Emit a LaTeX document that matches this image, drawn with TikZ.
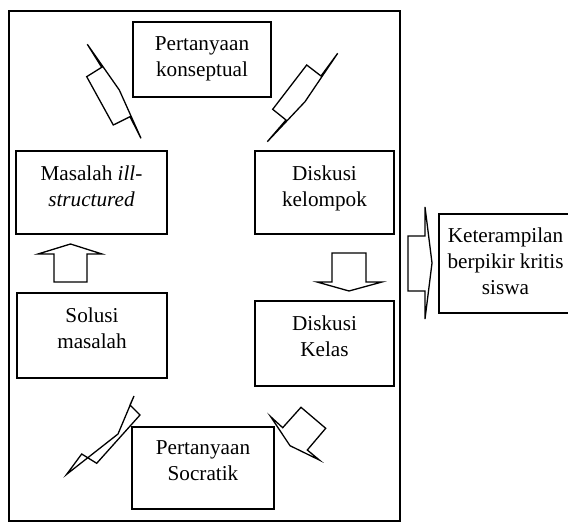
\documentclass[tikz,border=0pt]{standalone}
\usepackage{fontspec}
\setmainfont{Liberation Serif}
\usetikzlibrary{positioning}
\tikzset{
  kotak/.style={draw, line width=0.9pt, inner sep=0pt},
  teks/.style={align=center, inner sep=0pt, font=\fontsize{10.6}{13}\selectfont},
  panah/.style={draw, line width=0.65pt},
}
\begin{document}
\begin{tikzpicture}[x=0.5pt,y=-0.5pt]
                        \useasboundingbox (0,0) rectangle (568,528);

                        % Drawing outer frame
                        \draw [line width=1pt] (9,11) rectangle (400,521);%

                        % Drawing box Pertanyaan konseptual
                        \node [kotak, minimum width=69pt, minimum height=37.5pt] (konsep) at (202,59.5) {};%
                        \node [teks, below=7.75pt of konsep.north] (konsepteks) {Pertanyaan\\konseptual};%

                        % Drawing box Masalah ill-structured
                        \node [kotak, minimum width=75.5pt, minimum height=41.5pt] (masalah) at (91.5,192.5) {};%
                        \node [teks, below=7.75pt of masalah.north] (masalahteks) {Masalah \textit{ill-}\\\textit{structured}};%

                        % Drawing box Solusi masalah
                        \node [kotak, minimum width=75pt, minimum height=42.5pt] (solusi) at (92,335.5) {};%
                        \node [teks, below=7.75pt of solusi.north] (solusiteks) {Solusi\\masalah};%

                        % Drawing box Diskusi kelompok
                        \node [kotak, minimum width=69.5pt, minimum height=41.5pt] (kelompok) at (324.5,192.5) {};%
                        \node [teks, below=7.75pt of kelompok.north] (kelompokteks) {Diskusi\\kelompok};%

                        % Drawing box Diskusi Kelas
                        \node [kotak, minimum width=69.5pt, minimum height=42.5pt] (kelas) at (324.5,343.5) {};%
                        \node [teks, below=7.75pt of kelas.north] (kelasteks) {Diskusi\\Kelas};%

                        % Drawing box Pertanyaan Socratik
                        \node [kotak, minimum width=71pt, minimum height=41pt] (socratik) at (203,468) {};%
                        \node [teks, below=7.25pt of socratik.north] (socratikteks) {Pertanyaan\\Socratik};%

                        % Drawing box Keterampilan berpikir kritis siswa
                        \node [kotak, minimum width=66.5pt, minimum height=49.5pt] (kritis) at (505.5,263.5) {};%
                        \node [teks, below=7.25pt of kritis.north] (kritisteks) {Keterampilan\\berpikir kritis\\siswa};%

                        % Drawing arrow Masalah to Pertanyaan konseptual
                        \draw [panah] (87.3,44.3) -- (119.3,90) -- (141,138.3) -- (130,116.7) -- (113.3,125) -- (86.7,76.7) -- (101.7,67.3) -- cycle;%

                        % Drawing arrow Pertanyaan konseptual to Diskusi kelompok
                        \draw [panah] (337.7,53.3) -- (305,101.7) -- (267.3,141.7) -- (286,120) -- (272.7,109.3) -- (306.7,65) -- (321,76) -- cycle;%

                        % Drawing arrow Diskusi kelompok to Diskusi Kelas
                        \draw [panah] (332,253) -- (366,253) -- (366,282) -- (382,282) -- (349,291) -- (317,282) -- (332,282) -- cycle;%

                        % Drawing arrow Diskusi Kelas to Pertanyaan Socratik
                        \draw [panah] (270.7,416.7) -- (282.7,427.7) -- (301,407.3) -- (325.7,428.3) -- (307.3,450) -- (319.3,460) -- (290,445.7) -- cycle;%

                        % Drawing arrow Pertanyaan Socratik to Solusi masalah
                        \draw [panah] (134,396) -- (118,434) -- (66.7,474.3) -- (81.7,454) -- (96.7,463.3) -- (140,415) -- (130,405) -- cycle;%

                        % Drawing arrow Solusi masalah to Masalah
                        \draw [panah] (54,282) -- (54,254) -- (38,254) -- (70.5,244) -- (102,254) -- (87,254) -- (87,282) -- cycle;%

                        % Drawing arrow to Keterampilan berpikir kritis siswa
                        \draw [panah] (408,236) -- (425,236) -- (425,207) -- (432,263) -- (425,319) -- (425,291) -- (408,291) -- cycle;%
\end{tikzpicture}
\end{document}
